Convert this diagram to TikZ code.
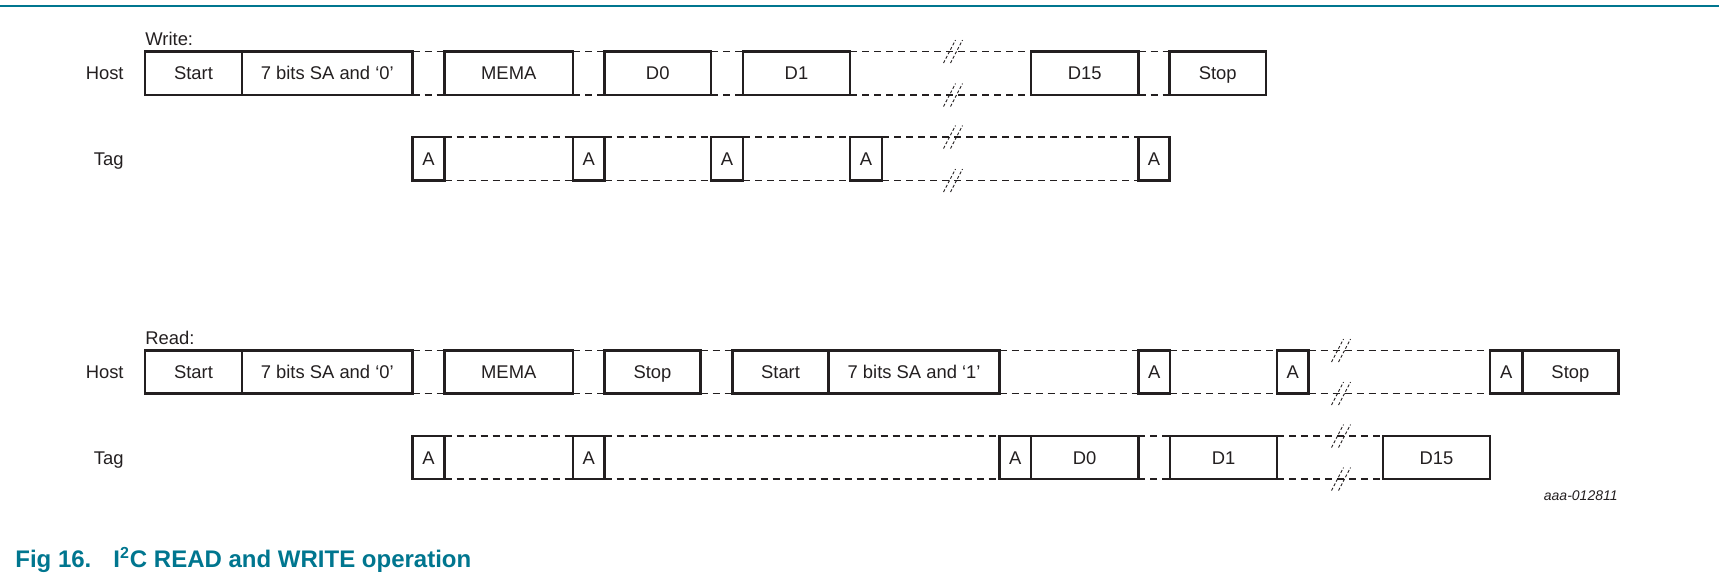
\documentclass[tikz,border=0pt]{standalone}
\usepackage{fontspec}
\setmainfont{Liberation Sans}
\definecolor{nxp}{RGB}{0,118,143}
\definecolor{ink}{RGB}{35,31,32}
\newcommand\blkbox[6]{\node[blk, minimum width={(#3-#2)*0.5pt}, minimum height={(#5-#4)*0.5pt}] (#1) at (#2,#4) {#6};}
\newcommand\gapline[2]{\draw[dl] (#1.north east) -- (#2.north west); \draw[dl] (#1.south east) -- (#2.south west);}
\newcommand\brkmark[1]{\draw[bl] ([shift={(-9.5,11.5)}]#1) -- ([shift={(2.5,-11.5)}]#1); \draw[bl] ([shift={(-2.5,11.5)}]#1) -- ([shift={(9.5,-11.5)}]#1);}
\begin{document}
\begin{tikzpicture}[x=0.5pt,y=-0.5pt,
  blk/.style={draw=ink, line width=1.15pt, inner sep=0pt, outer sep=0pt, anchor=north west,
    font=\fontsize{9.2pt}{11pt}\selectfont, text=ink, text height=6.6pt, text depth=0pt},
  lbl/.style={anchor=east, inner sep=0pt, font=\fontsize{9.2pt}{11pt}\selectfont, text=ink, text height=6.6pt, text depth=0pt},
  ttl/.style={anchor=base west, inner sep=0pt, font=\fontsize{9.2pt}{11pt}\selectfont, text=ink},
  dl/.style={draw=ink, line width=0.55pt, dash pattern=on 3.5pt off 2.5pt},
  bl/.style={draw=ink, line width=0.45pt, dash pattern=on 1.5pt off 1pt}]
\useasboundingbox (0,0) rectangle (1719,580);
\coordinate (ruleL) at (0,6);
\coordinate (ruleR) at (1719,6);
\draw[nxp, line width=1pt] (ruleL) -- (ruleR);

% ---------------- Write ----------------
\node[ttl] (wtitle) at (145,45.7) {Write:};
\node[lbl] (whost) at (124,73.3) {Host};
\node[lbl] (wtag) at (124,158.8) {Tag};

\blkbox{wStart}{145}{242}{51.5}{95}{Start}
\blkbox{wSA}{242}{412.5}{51.5}{95}{7 bits SA and ‘0’}
\blkbox{wMEMA}{444.5}{573}{51.5}{95}{MEMA}
\blkbox{wD0}{604.5}{711}{51.5}{95}{D0}
\blkbox{wD1}{743}{850}{51.5}{95}{D1}
\blkbox{wD15}{1031}{1138.5}{51.5}{95}{D15}
\blkbox{wStop}{1169.5}{1266}{51.5}{95}{Stop}

\blkbox{wA1}{412.5}{444.5}{137}{180.5}{A}
\blkbox{wA2}{573}{604.5}{137}{180.5}{A}
\blkbox{wA3}{711}{743}{137}{180.5}{A}
\blkbox{wA4}{850}{882}{137}{180.5}{A}
\blkbox{wA5}{1138.5}{1169.5}{137}{180.5}{A}

\gapline{wSA}{wMEMA}
\gapline{wMEMA}{wD0}
\gapline{wD0}{wD1}
\gapline{wD1}{wD15}
\gapline{wD15}{wStop}
\gapline{wA1}{wA2}
\gapline{wA2}{wA3}
\gapline{wA3}{wA4}
\gapline{wA4}{wA5}

\coordinate (wb1) at (953,51.5);
\coordinate (wb2) at (953,95);
\coordinate (wb3) at (953,137);
\coordinate (wb4) at (953,180.5);
\brkmark{wb1}\brkmark{wb2}\brkmark{wb3}\brkmark{wb4}

% ---------------- Read ----------------
\node[ttl] (rtitle) at (145,344.2) {Read:};
\node[lbl] (rhost) at (124,372) {Host};
\node[lbl] (rtag) at (124,457.5) {Tag};

\blkbox{rStart}{145}{242}{350.5}{393.5}{Start}
\blkbox{rSA}{242}{412.5}{350.5}{393.5}{7 bits SA and ‘0’}
\blkbox{rMEMA}{444.5}{573}{350.5}{393.5}{MEMA}
\blkbox{rStop}{604.5}{700.5}{350.5}{393.5}{Stop}
\blkbox{rStartB}{732.5}{828.6}{350.5}{393.5}{Start}
\blkbox{rSAB}{828.6}{999.6}{350.5}{393.5}{7 bits SA and ‘1’}
\blkbox{rHA1}{1138.4}{1170.3}{350.5}{393.5}{A}
\blkbox{rHA2}{1277}{1308.5}{350.5}{393.5}{A}
\blkbox{rHA3}{1490}{1522.4}{350.5}{393.5}{A}
\blkbox{rStopB}{1522.4}{1618.4}{350.5}{393.5}{Stop}

\blkbox{rA1}{412.5}{444.5}{436}{479}{A}
\blkbox{rA2}{573}{604.5}{436}{479}{A}
\blkbox{rA3}{999.6}{1031}{436}{479}{A}
\blkbox{rD0}{1031}{1138.4}{436}{479}{D0}
\blkbox{rD1}{1170.3}{1277}{436}{479}{D1}
\blkbox{rD15}{1383}{1490}{436}{479}{D15}

\gapline{rSA}{rMEMA}
\gapline{rMEMA}{rStop}
\gapline{rStop}{rStartB}
\gapline{rSAB}{rHA1}
\gapline{rHA1}{rHA2}
\gapline{rHA2}{rHA3}
\gapline{rA1}{rA2}
\gapline{rA2}{rA3}
\gapline{rD0}{rD1}
\gapline{rD1}{rD15}

\coordinate (rb1) at (1341,350.5);
\coordinate (rb2) at (1341,393.5);
\coordinate (rb3) at (1341,436);
\coordinate (rb4) at (1341,479);
\brkmark{rb1}\brkmark{rb2}\brkmark{rb3}\brkmark{rb4}

\node[anchor=base east, inner sep=0pt, font=\fontsize{7pt}{8.4pt}\selectfont\itshape, text=ink] (code) at (1618,500.5) {aaa-012811};

\node[anchor=base west, inner sep=0pt, font=\fontsize{12pt}{14.4pt}\selectfont\bfseries, text=nxp] (caption) at (15,567) {Fig 16.\hspace{11pt}I\textsuperscript{2}C READ and WRITE operation};
\end{tikzpicture}
\end{document}
